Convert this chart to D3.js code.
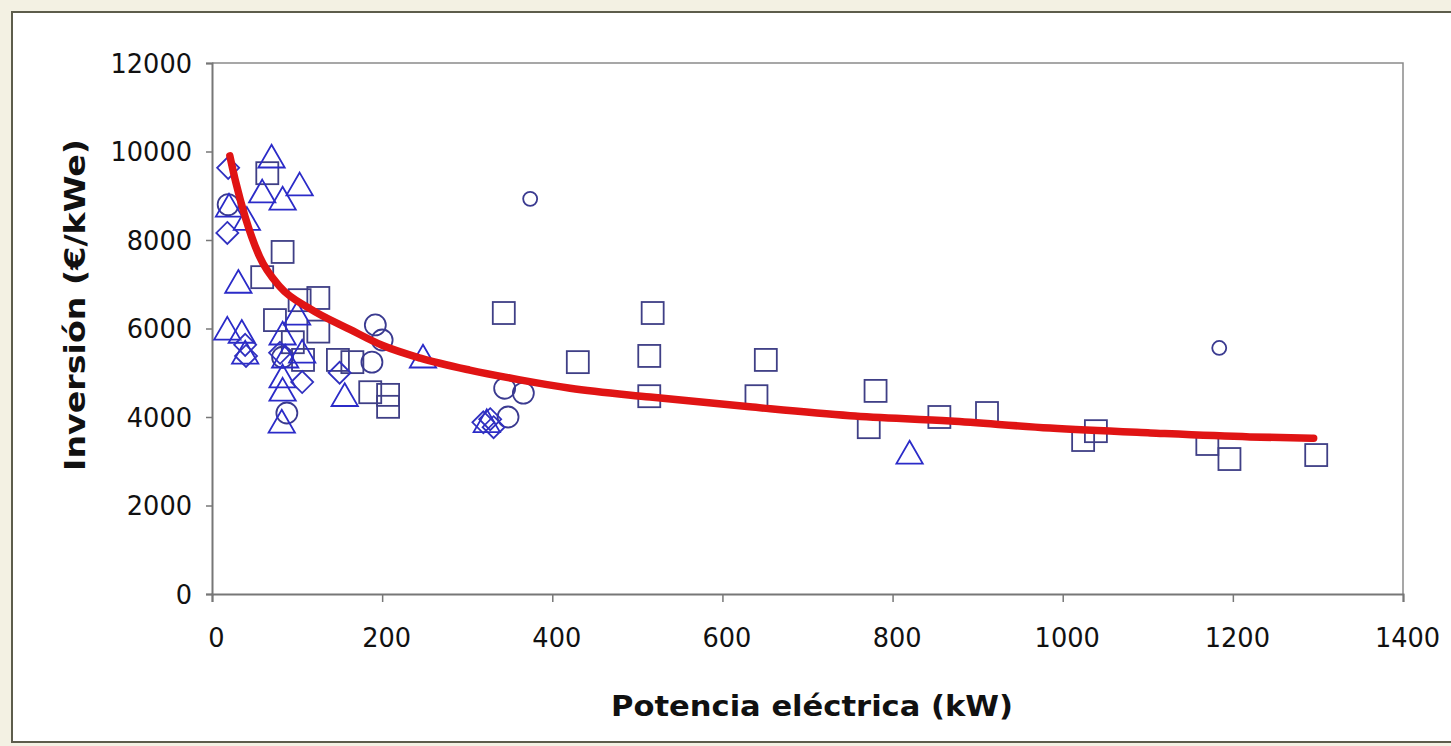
<!DOCTYPE html>
<html>
<head>
<meta charset="utf-8">
<script src="https://cdn.jsdelivr.net/npm/d3@7"></script>
<style>
  html, body { margin: 0; padding: 0; background: #f3f1e3; }
  svg { display: block; }
</style>
</head>
<body>
<svg id="chart" width="1451" height="746"></svg>
<script>
// ---- data (kW, €/kWe) ----
const xTicks = [0, 200, 400, 600, 800, 1000, 1200, 1400];
const yTicks = [0, 2000, 4000, 6000, 8000, 10000, 12000];

const diamonds = [
  [19, 9630], [18, 8160], [39, 5630], [40, 5380], [80, 5450], [106, 4790],
  [150, 5000], [319, 3880], [327, 3950], [331, 3770]
];
const triangles = [
  [70, 9810], [59, 9020], [83, 8860], [103, 9180], [20, 8700], [41, 8400],
  [31, 6980], [18, 5920], [35, 5850], [39, 5380], [83, 5810], [86, 5290],
  [100, 6260], [106, 5400], [83, 4840], [83, 4540], [82, 3820], [156, 4420],
  [248, 5290], [323, 3830], [820, 3120]
];
const squares = [
  [65, 9510], [83, 7730], [59, 7160], [103, 6640], [125, 6690], [74, 6190],
  [125, 5930], [107, 5290], [95, 5690], [148, 5290], [165, 5240], [186, 4560],
  [207, 4500], [207, 4230], [343, 6350], [430, 5240], [518, 6350], [514, 5380],
  [514, 4470], [651, 5290], [640, 4470], [780, 4590], [772, 3770], [855, 4000],
  [911, 4090], [1024, 3480], [1039, 3680], [1170, 3390], [1196, 3050], [1298, 3140]
];
const circles = [
  [19, 8800], [192, 6080], [200, 5740], [188, 5240], [88, 4090], [83, 5350],
  [344, 4650], [366, 4540], [348, 4000]
];
const smallCircles = [[374, 8930], [1184, 5560]];

// fitted trend line
const trend = [
  [21, 9900], [28, 9300], [39, 8520], [56, 7620], [80, 6940], [115, 6450],
  [162, 5980], [200, 5620], [245, 5330], [303, 5060], [362, 4840], [421, 4650],
  [515, 4450], [632, 4230], [750, 4030], [868, 3910], [985, 3750], [1103, 3640],
  [1220, 3550], [1295, 3520]
];

const xTitle = "Potencia eléctrica (kW)";
const yTitle = "Inversión (€/kWe)";

// ---- drawing ----
const svg = d3.select("#chart");
const W = 1451, H = 746;

svg.append("rect").attr("width", W).attr("height", H).attr("fill", "#f3f1e3");
svg.append("rect").attr("x", 12).attr("y", 12).attr("width", W + 10).attr("height", 730)
  .attr("fill", "#ffffff").attr("stroke", "#5d5d4c").attr("stroke-width", 2);

const x = d3.scaleLinear().domain([0, 1400]).range([212, 1403]);
const y = d3.scaleLinear().domain([0, 12000]).range([594, 63]);

// plot frame (top/right)
svg.append("path")
  .attr("d", `M${x(0)},${y(12000)}H${x(1400)}V${y(0)}`)
  .attr("fill", "none").attr("stroke", "#8a8a8a").attr("stroke-width", 1.5);

const font = "'DejaVu Sans', Verdana, sans-serif";

const xAxis = svg.append("g").attr("transform", `translate(0,${y(0)})`)
  .call(d3.axisBottom(x).tickValues(xTicks).tickSize(8).tickPadding(26).tickFormat(d3.format("d")));
const yAxis = svg.append("g").attr("transform", `translate(${x(0)},0)`)
  .call(d3.axisLeft(y).tickValues(yTicks).tickSize(6).tickPadding(14).tickFormat(d3.format("d")));

[xAxis, yAxis].forEach(g => {
  g.select(".domain").attr("stroke", "#777").attr("stroke-width", 2);
  g.selectAll(".tick line").attr("stroke", "#777").attr("stroke-width", 1.5);
  g.selectAll(".tick text")
    .attr("fill", "#111")
    .style("font-family", font)
    .style("font-size", "27px")
    .attr("textLength", function() { return this.textContent.length * 16.3; })
    .attr("lengthAdjust", "spacingAndGlyphs");
});
xAxis.selectAll(".tick text").attr("dx", 4);
yAxis.selectAll(".tick text").attr("dy", "0.35em");

// axis titles
svg.append("text")
  .attr("x", 812).attr("y", 716)
  .attr("text-anchor", "middle")
  .style("font-family", font).style("font-weight", "bold").style("font-size", "28px")
  .attr("fill", "#111")
  .attr("textLength", 402).attr("lengthAdjust", "spacingAndGlyphs")
  .text(xTitle);

svg.append("text")
  .attr("transform", "translate(85,305) rotate(-90)")
  .attr("text-anchor", "middle")
  .style("font-family", font).style("font-weight", "bold").style("font-size", "28px")
  .attr("fill", "#111")
  .attr("textLength", 332).attr("lengthAdjust", "spacingAndGlyphs")
  .text(yTitle);

// markers
const marks = svg.append("g").attr("fill", "none").attr("stroke-width", 1.8);

marks.selectAll(".sq").data(squares).join("rect")
  .attr("x", d => x(d[0]) - 11).attr("y", d => y(d[1]) - 11)
  .attr("width", 22).attr("height", 22)
  .attr("stroke", "#3f3f86");

marks.selectAll(".ci").data(circles).join("circle")
  .attr("cx", d => x(d[0])).attr("cy", d => y(d[1])).attr("r", 10.5)
  .attr("stroke", "#3a3a90");

marks.selectAll(".cs").data(smallCircles).join("circle")
  .attr("cx", d => x(d[0])).attr("cy", d => y(d[1])).attr("r", 7)
  .attr("stroke", "#3a3a90");

const tri = d3.symbol().type(d3.symbolTriangle).size(300);
marks.selectAll(".tr").data(triangles).join("path")
  .attr("d", tri)
  .attr("transform", d => `translate(${x(d[0])},${y(d[1])})`)
  .attr("stroke", "#2b2bc8");

marks.selectAll(".di").data(diamonds).join("path")
  .attr("d", "M0,-11L11,0L0,11L-11,0Z")
  .attr("transform", d => `translate(${x(d[0])},${y(d[1])})`)
  .attr("stroke", "#3030c0");

// trend line
svg.append("path")
  .datum(trend)
  .attr("d", d3.line().x(d => x(d[0])).y(d => y(d[1])).curve(d3.curveMonotoneX))
  .attr("fill", "none").attr("stroke", "#e01414").attr("stroke-width", 7.5)
  .attr("stroke-linecap", "round").attr("stroke-linejoin", "round");
</script>
</body>
</html>
